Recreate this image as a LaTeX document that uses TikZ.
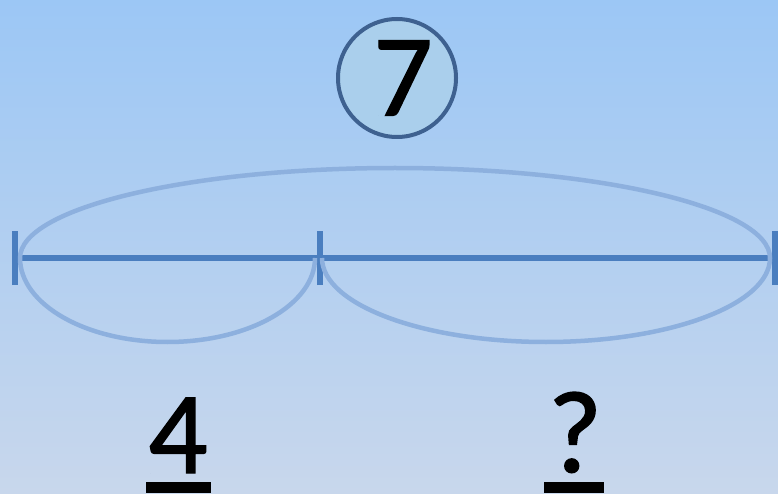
\documentclass[tikz,border=0pt]{standalone}
\usepackage{fontspec}
\setmainfont{Carlito}
\newfontfamily\digitfont{Carlito}[FakeBold=1.2]
\usepackage{xcolor}
\usetikzlibrary{positioning,calc}

\definecolor{skytop}{RGB}{156,199,245}
\definecolor{skybottom}{RGB}{200,215,236}
\definecolor{ringblue}{RGB}{62,97,144}
\definecolor{ringfill}{RGB}{170,207,236}
\definecolor{barblue}{RGB}{74,126,191}
\definecolor{arcblue}{RGB}{141,176,222}

\begin{document}
\begin{tikzpicture}[
    x=1pt, y=1pt,
    total/.style={
        circle,
        draw=ringblue,
        fill=ringfill,
        line width=4pt,
        minimum size=118pt,
        inner sep=0pt,
        font=\digitfont\fontsize{117}{117}\selectfont
    },
    part/.style={
        anchor=base,
        inner sep=0pt,
        font=\digitfont\fontsize{117}{117}\selectfont
    },
    segment/.style={
        draw=barblue,
        line width=6pt
    },
    bracket/.style={
        draw=arcblue,
        line width=4.5pt
    },
    blank/.style={
        fill=black
    }
]

\useasboundingbox (0,0) rectangle (778,493);
\shade[top color=skytop, bottom color=skybottom] (0,0) rectangle (778,493);

% number line
\coordinate (start) at (15,235);
\coordinate (split) at (320,235);
\coordinate (stop) at (775,235);

\draw[segment] (start) -- (stop);
\draw[segment] ($(start)+(0,-27)$) -- ($(start)+(0,27)$);
\draw[segment] ($(split)+(0,-27)$) -- ($(split)+(0,27)$);
\draw[segment] ($(stop)+(0,-27)$) -- ($(stop)+(0,27)$);

% brackets
\coordinate (wholeL) at (20,235);
\coordinate (wholeR) at (770,235);
\coordinate (leftR) at (315,235);
\coordinate (rightL) at (322,235);

\draw[bracket] (wholeL) arc[start angle=180, end angle=0, x radius=375, y radius=90];
\draw[bracket] (wholeL) arc[start angle=180, end angle=360, x radius=147.5, y radius=84];
\draw[bracket] (rightL) arc[start angle=180, end angle=360, x radius=224, y radius=84];

% numbers
\node[total] (sum) at (397,415) {\hspace*{12pt}\raisebox{-10pt}{7}};
\node[part] (known) at (178,20) {4};
\node[part] (unknown) at (575,21) {?};

\fill[blank] (146,0) rectangle (211,11);
\fill[blank] (544,0) rectangle (604,11);

\end{tikzpicture}
\end{document}
